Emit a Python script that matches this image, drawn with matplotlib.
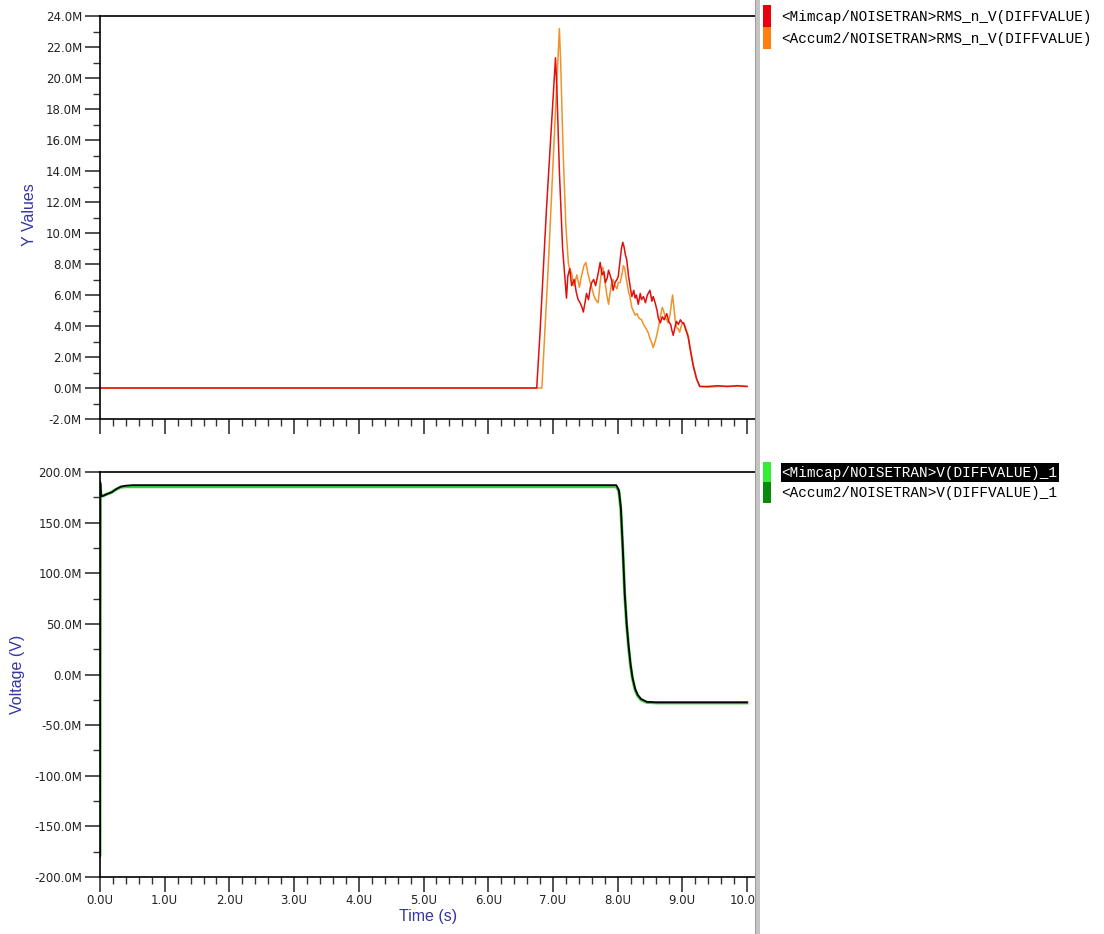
import numpy as np
import matplotlib
matplotlib.use("Agg")
import matplotlib.pyplot as plt
from matplotlib.ticker import MultipleLocator, FuncFormatter
from matplotlib.patches import Rectangle

# top panel: RMS noise, time in us, values in M
mim_rms_t = [0, 6.75, 6.80, 6.85, 6.90, 6.95, 7.00, 7.04, 7.06, 7.10, 7.15, 7.21, 7.23, 7.26, 7.29,
             7.33, 7.36, 7.39, 7.42, 7.45, 7.47, 7.50, 7.52, 7.55, 7.58, 7.60, 7.63, 7.66, 7.70,
             7.73, 7.76, 7.79, 7.81, 7.84, 7.86, 7.89, 7.91, 7.93, 7.96, 7.99, 8.01, 8.04, 8.06,
             8.08, 8.10, 8.12, 8.14, 8.17, 8.20, 8.22, 8.25, 8.27, 8.29, 8.32, 8.35, 8.37, 8.40,
             8.43, 8.46, 8.50, 8.53, 8.55, 8.58, 8.61, 8.63, 8.66, 8.69, 8.72, 8.76, 8.79, 8.82,
             8.84, 8.86, 8.89, 8.91, 8.94, 8.97, 9.00, 9.02, 9.05, 9.09, 9.13, 9.17, 9.22, 9.27,
             9.40, 9.55, 9.70, 9.85, 10.0]
mim_rms_v = [0, 0, 3.5, 7.5, 11.5, 15.0, 18.5, 21.3, 19.5, 14.0, 9.0, 5.8, 7.2, 7.7, 6.6,
             7.0, 6.2, 5.7, 5.5, 5.2, 4.9, 5.6, 6.1, 5.7, 6.5, 6.8, 7.0, 6.6, 7.4,
             8.1, 7.3, 7.5, 6.8, 7.1, 7.6, 7.2, 6.9, 6.3, 6.8, 7.0, 7.2, 8.3, 9.0,
             9.4, 9.1, 8.6, 8.3, 7.2, 6.4, 5.9, 6.3, 5.8, 6.0, 5.4, 6.1, 5.7, 5.9,
             5.5, 6.0, 6.3, 5.6, 5.9, 5.5, 5.0, 4.5, 4.2, 4.6, 4.4, 4.8, 4.3, 4.1,
             3.7, 3.4, 4.0, 4.3, 4.1, 4.4, 4.2, 4.2, 3.8, 3.3, 2.3, 1.4, 0.6, 0.1,
             0.1, 0.15, 0.1, 0.15, 0.1]

acc_rms_t = [0, 6.83, 6.88, 6.93, 6.98, 7.03, 7.07, 7.10, 7.12, 7.16, 7.20, 7.24, 7.26, 7.29,
             7.32, 7.34, 7.37, 7.41, 7.44, 7.48, 7.51, 7.54, 7.57, 7.60, 7.63, 7.66, 7.70,
             7.73, 7.75, 7.77, 7.80, 7.83, 7.86, 7.89, 7.91, 7.93, 7.96, 7.99, 8.01, 8.04,
             8.07, 8.09, 8.11, 8.14, 8.17, 8.19, 8.22, 8.25, 8.27, 8.30, 8.33, 8.37, 8.40,
             8.43, 8.47, 8.50, 8.53, 8.55, 8.58, 8.60, 8.63, 8.66, 8.69, 8.71, 8.74, 8.76,
             8.78, 8.81, 8.83, 8.85, 8.87, 8.89, 8.91, 8.94, 8.96, 8.99, 9.02, 9.05, 9.09,
             9.13, 9.17, 9.22, 9.27, 9.40, 9.55, 9.70, 9.85, 10.0]
acc_rms_v = [0, 0, 4.0, 8.0, 12.5, 17.0, 20.5, 23.2, 21.0, 15.0, 10.5, 8.0, 7.7, 7.4,
             6.6, 6.8, 7.3, 6.5, 7.2, 7.9, 8.1, 7.4, 6.9, 6.5, 6.0, 5.7, 5.5,
             6.8, 7.5, 7.8, 7.0, 6.1, 5.4, 6.3, 6.8, 7.0, 6.6, 6.4, 6.8, 6.8,
             7.4, 7.9, 7.7, 6.9, 6.2, 5.9, 5.2, 4.9, 4.7, 4.8, 4.5, 4.4, 4.1,
             3.9, 3.6, 3.2, 2.9, 2.6, 3.0, 3.3, 3.9, 4.6, 5.2, 5.0, 4.5, 4.4,
             4.2, 4.7, 5.4, 6.0, 5.2, 4.4, 3.9, 3.8, 3.6, 4.1, 4.2, 3.9, 3.4,
             2.4, 1.5, 0.6, 0.1, 0.05, 0.1, 0.1, 0.12, 0.1]

# bottom panel: voltage in mV
v_t = [0, 0.004, 0.015, 0.05, 0.10, 0.18, 0.25, 0.32, 0.40, 0.50, 0.60, 7.98, 8.02, 8.05,
       8.08, 8.11, 8.14, 8.17, 8.20, 8.23, 8.27, 8.31, 8.36, 8.45, 8.60, 10.0]
mim_v = [-180, 190, 176, 176.5, 178, 180, 183, 185.5, 186.5, 187, 187, 187, 182, 165,
         125, 80, 50, 28, 10, -3, -14, -20, -24, -27, -27.5, -27.5]
acc_v = [-178, 188, 176, 176.5, 178, 180, 183, 185, 185.5, 185.5, 185.5, 185.5, 181, 163,
         124, 79, 49, 27, 9, -4, -15, -21, -25, -27.5, -28, -28]

top_labels = ["<Mimcap/NOISETRAN>RMS_n_V(DIFFVALUE)", "<Accum2/NOISETRAN>RMS_n_V(DIFFVALUE)"]
bot_labels = ["<Mimcap/NOISETRAN>V(DIFFVALUE)_1", "<Accum2/NOISETRAN>V(DIFFVALUE)_1"]

W, H = 1104, 934
fig = plt.figure(figsize=(W / 100, H / 100), dpi=100)
fig.patch.set_facecolor("white")

def box(x0, y0, x1, y1):
    # pixel box -> figure fraction
    return [x0 / W, 1 - y1 / H, (x1 - x0) / W, (y1 - y0) / H]

ax1 = fig.add_axes(box(100, 16, 755, 419))
ax2 = fig.add_axes(box(100, 472, 755, 877))

xmax = (755 - 100) / 64.7

for ax in (ax1, ax2):
    ax.set_xlim(0, xmax)
    ax.spines["right"].set_visible(False)
    for s in ("left", "bottom", "top"):
        ax.spines[s].set_linewidth(1.2)
        ax.spines[s].set_color("black")
    ax.xaxis.set_major_locator(MultipleLocator(1))
    ax.xaxis.set_minor_locator(MultipleLocator(0.2))
    ax.tick_params(which="major", length=11, width=1.2, color="#333333", pad=2,
                   labelsize=8.5, labelcolor="#222222")
    ax.tick_params(which="minor", length=5, width=1.0, color="#333333")
    ax.tick_params(axis="x", which="both", top=False)
    ax.tick_params(axis="x", which="major", pad=1)
    ax.tick_params(axis="y", which="both", right=False)

ax1.plot(acc_rms_t, acc_rms_v, color="#f0922a", lw=1.1)
ax1.plot(mim_rms_t, mim_rms_v, color="#e01010", lw=1.1)
ax1.set_ylim(-2, 24)
ax1.yaxis.set_major_locator(MultipleLocator(2))
ax1.yaxis.set_minor_locator(MultipleLocator(1))
ax1.yaxis.set_major_formatter(FuncFormatter(lambda v, p: f"{v:.1f}M"))
ax1.tick_params(axis="x", labelbottom=False)

ax2.plot(v_t, acc_v, color="#3fcf3f", lw=2.2)
ax2.plot(v_t, mim_v, color="black", lw=1.3)
ax2.set_ylim(-200, 200)
ax2.yaxis.set_major_locator(MultipleLocator(50))
ax2.yaxis.set_minor_locator(MultipleLocator(25))
ax2.yaxis.set_major_formatter(FuncFormatter(lambda v, p: f"{v:.1f}M"))
ax2.xaxis.set_major_formatter(FuncFormatter(lambda v, p: f"{v:.1f}U"))

lab_color = "#3535a5"
fig.text(30 / W, 1 - 215 / H, "Y Values", rotation=90, ha="center", va="center",
         fontsize=11.5, color=lab_color, family="Liberation Sans")
fig.text(18 / W, 1 - 674 / H, "Voltage (V)", rotation=90, ha="center", va="center",
         fontsize=11.5, color=lab_color, family="Liberation Sans")
fig.text(428 / W, 1 - 916 / H, "Time (s)", ha="center", va="center",
         fontsize=11.5, color=lab_color, family="Liberation Sans")

# separator between plots and legend area
fig.add_artist(Rectangle((760 / W, 0), 20 / W, 1, transform=fig.transFigure,
                         facecolor="white", edgecolor="none", zorder=5))
fig.add_artist(Rectangle((754.5 / W, 0), 5.5 / W, 1, transform=fig.transFigure,
                         facecolor="#c4c4c4", edgecolor="none", zorder=6))
fig.add_artist(Rectangle((754.5 / W, 0), 1 / W, 1, transform=fig.transFigure,
                         facecolor="#9a9a9a", edgecolor="none", zorder=6))

# legend blocks
top_colors = ["#e8000b", "#ff8010"]
bot_colors = ["#33ee33", "#0a8a0a"]
for i, (lab, c) in enumerate(zip(top_labels, top_colors)):
    y0 = 5 + i * 22
    fig.add_artist(Rectangle(box(762.5, y0, 770.5, y0 + 21.5)[:2], 8 / W, 21.5 / H,
                             transform=fig.transFigure, facecolor=c, edgecolor="none", zorder=7))
    fig.text(781 / W, 1 - (y0 + 11.5) / H, lab, ha="left", va="center", fontsize=10.4,
             family="Liberation Mono", color="black", zorder=8)
for i, (lab, c) in enumerate(zip(bot_labels, bot_colors)):
    y0 = 461.5 + i * 21
    fig.add_artist(Rectangle(box(762.5, y0, 770.5, y0 + 21)[:2], 8 / W, 21 / H,
                             transform=fig.transFigure, facecolor=c, edgecolor="none", zorder=7))
    if i == 0:
        fig.add_artist(Rectangle(box(780.5, 463, 1059, 482)[:2], 278.5 / W, 19 / H,
                                 transform=fig.transFigure, facecolor="black",
                                 edgecolor="none", zorder=7))
    fig.text(781 / W, 1 - (y0 + 11) / H, lab, ha="left", va="center", fontsize=10.4,
             family="Liberation Mono", color="white" if i == 0 else "black", zorder=8)

fig.savefig("out.png", dpi=100)
